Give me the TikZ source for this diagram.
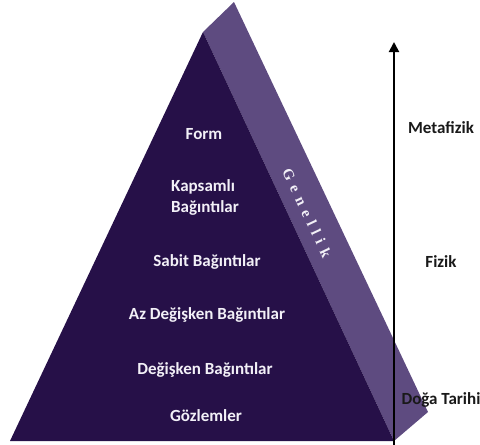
\documentclass[tikz,border=0pt]{standalone}
\usepackage{fontspec}
\setmainfont{Carlito}
\newfontfamily\genfont[LetterSpace=40]{Liberation Serif}
\usetikzlibrary{arrows.meta}
\definecolor{frontc}{RGB}{38,16,72}
\definecolor{sidec}{RGB}{94,75,128}
\definecolor{wtext}{RGB}{242,240,247}
\definecolor{btext}{RGB}{25,25,25}
\tikzset{
  lvl/.style={text=wtext, font=\bfseries\fontsize{17}{19}\selectfont, inner sep=0pt, anchor=center},
  side/.style={text=btext, font=\bfseries\fontsize{17}{19}\selectfont, inner sep=0pt, anchor=center},
  axis/.style={line width=2pt, draw=black, -{Triangle[length=10pt,width=10pt]}}
}
\begin{document}
\begin{tikzpicture}[x=1pt,y=-1pt]
\useasboundingbox (0,0) rectangle (480,445);
% side face
\fill[sidec] (203,32) -- (234,2) -- (428,412) -- (394,441) -- cycle;
% front face
\fill[frontc] (203,32) -- (394,441) -- (10,441) -- cycle;
% levels
\node[lvl] (form) at (204,134) {Form};
\node[lvl, anchor=west] (kap) at (171,187) {Kapsamlı};
\node[lvl, anchor=west] (kapb) at (171,208) {Bağıntılar};
\node[lvl] (sabit) at (207,262) {Sabit Bağıntılar};
\node[lvl] (az) at (207,315) {Az Değişken Bağıntılar};
\node[lvl] (deg) at (205,370) {Değişken Bağıntılar};
\node[lvl] (goz) at (206,416) {Gözlemler};
% Genellik
\node[text=wtext, font=\genfont\bfseries\fontsize{15}{17}\selectfont, rotate=-64.7, inner sep=0pt] (gen) at (307,213) {Genellik};
% axis
\coordinate (abot) at (394,445);
\coordinate (atop) at (394,42);
\draw[axis] (abot) -- (atop);
\node[side] (meta) at (441,128) {Metafizik};
\node[side] (fiz) at (441,262) {Fizik};
\node[side] (doga) at (441,400) {Doğa Tarihi};
\end{tikzpicture}
\end{document}
